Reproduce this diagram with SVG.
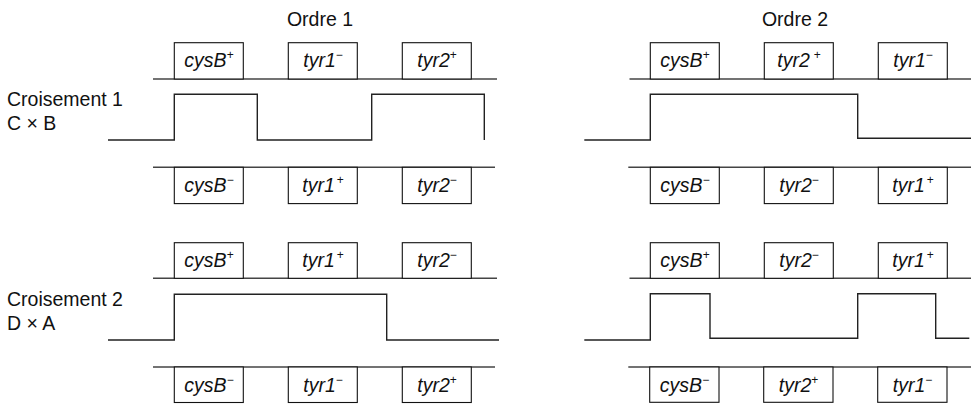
<svg xmlns="http://www.w3.org/2000/svg" width="971" height="404" viewBox="0 0 971 404">
<style>
.bg{fill:#fff}
.t{font-family:"Liberation Sans",Arial,sans-serif;font-size:19.5px;fill:#111}
.lab{font-family:"Liberation Sans",Arial,sans-serif;font-size:19.5px;font-style:italic;fill:#111;text-anchor:middle}
.sup{font-size:12px;font-style:normal}
.box{fill:#fff;stroke:#111;stroke-width:1.1}
.chr{stroke:#444;stroke-width:1.6;fill:none}
.wave{stroke:#222;stroke-width:1.4;fill:none}
</style>
<rect class="bg" x="0" y="0" width="971" height="404"/>
<g id="titles">
<text class="t" x="320" y="26" text-anchor="middle">Ordre 1</text>
<text class="t" x="795" y="26" text-anchor="middle">Ordre 2</text>
<text class="t" x="7" y="106">Croisement 1</text>
<text class="t" x="7" y="130">C × B</text>
<text class="t" x="7" y="306">Croisement 2</text>
<text class="t" x="7" y="330">D × A</text>
</g>
<g id="chromosomes">
<line class="chr" x1="153" y1="79" x2="497" y2="79"/>
<line class="chr" x1="153" y1="167.3" x2="495" y2="167.3"/>
<line class="chr" x1="629.5" y1="79" x2="971" y2="79"/>
<line class="chr" x1="628.3" y1="167.3" x2="971" y2="167.3"/>
<line class="chr" x1="153" y1="278.3" x2="497" y2="278.3"/>
<line class="chr" x1="153" y1="367" x2="495" y2="367"/>
<line class="chr" x1="629.5" y1="278.3" x2="971" y2="278.3"/>
<line class="chr" x1="628.3" y1="367" x2="971" y2="367"/>
</g>
<g id="connectors">
<path class="wave" d="M108,140 H174.3 V94.3 H257.3 V140 H371.7 V94.3 H484.3 V140"/>
<path class="wave" d="M584.3,140 H650.3 V94.3 H857.7 V138.3 H971"/>
<path class="wave" d="M108,340 H174.3 V294.3 H386.7 V340 H499"/>
<path class="wave" d="M584.3,340 H650.3 V293.7 H710 V338.3 H857.7 V293.7 H935.7 V338.3 H969.3"/>
</g>
<g id="c1-o1-top-cysB"><rect class="box" x="174.3" y="42.7" width="69" height="36.3"/><text class="lab" x="209" y="67.3">cysB<tspan class="sup" dy="-8">+</tspan></text></g>
<g id="c1-o1-top-tyr1"><rect class="box" x="288.3" y="42.7" width="69" height="36.3"/><text class="lab" x="323" y="67.3">tyr1<tspan class="sup" dy="-8">−</tspan></text></g>
<g id="c1-o1-top-tyr2"><rect class="box" x="402.3" y="42.7" width="69" height="36.3"/><text class="lab" x="437" y="67.3">tyr2<tspan class="sup" dy="-8">+</tspan></text></g>
<g id="c1-o1-bot-cysB"><rect class="box" x="174.3" y="167.3" width="69" height="36.3"/><text class="lab" x="209" y="192">cysB<tspan class="sup" dy="-8">−</tspan></text></g>
<g id="c1-o1-bot-tyr1"><rect class="box" x="288.3" y="167.3" width="69" height="36.3"/><text class="lab" x="323" y="192">tyr1<tspan class="sup" dx="2" dy="-8">+</tspan></text></g>
<g id="c1-o1-bot-tyr2"><rect class="box" x="402.3" y="167.3" width="69" height="36.3"/><text class="lab" x="437" y="192">tyr2<tspan class="sup" dy="-8">−</tspan></text></g>
<g id="c1-o2-top-cysB"><rect class="box" x="650.3" y="42.7" width="69" height="36.3"/><text class="lab" x="685" y="67.3">cysB<tspan class="sup" dy="-8">+</tspan></text></g>
<g id="c1-o2-top-tyr2"><rect class="box" x="764.3" y="42.7" width="69" height="36.3"/><text class="lab" x="799" y="67.3">tyr2<tspan class="sup" dx="4" dy="-8">+</tspan></text></g>
<g id="c1-o2-top-tyr1"><rect class="box" x="878.3" y="42.7" width="69" height="36.3"/><text class="lab" x="913" y="67.3">tyr1<tspan class="sup" dy="-8">−</tspan></text></g>
<g id="c1-o2-bot-cysB"><rect class="box" x="650.3" y="167.3" width="69" height="36.3"/><text class="lab" x="685" y="192">cysB<tspan class="sup" dy="-8">−</tspan></text></g>
<g id="c1-o2-bot-tyr2"><rect class="box" x="764.3" y="167.3" width="69" height="36.3"/><text class="lab" x="799" y="192">tyr2<tspan class="sup" dy="-8">−</tspan></text></g>
<g id="c1-o2-bot-tyr1"><rect class="box" x="878.3" y="167.3" width="69" height="36.3"/><text class="lab" x="913" y="192">tyr1<tspan class="sup" dx="2" dy="-8">+</tspan></text></g>
<g id="c2-o1-top-cysB"><rect class="box" x="174.3" y="242.7" width="69" height="35.6"/><text class="lab" x="209" y="267">cysB<tspan class="sup" dy="-8">+</tspan></text></g>
<g id="c2-o1-top-tyr1"><rect class="box" x="288.3" y="242.7" width="69" height="35.6"/><text class="lab" x="323" y="267">tyr1<tspan class="sup" dx="2" dy="-8">+</tspan></text></g>
<g id="c2-o1-top-tyr2"><rect class="box" x="402.3" y="242.7" width="69" height="35.6"/><text class="lab" x="437" y="267">tyr2<tspan class="sup" dy="-8">−</tspan></text></g>
<g id="c2-o1-bot-cysB"><rect class="box" x="174.3" y="367" width="69" height="35.5"/><text class="lab" x="209" y="391.5">cysB<tspan class="sup" dy="-8">−</tspan></text></g>
<g id="c2-o1-bot-tyr1"><rect class="box" x="288.3" y="367" width="69" height="35.5"/><text class="lab" x="323" y="391.5">tyr1<tspan class="sup" dy="-8">−</tspan></text></g>
<g id="c2-o1-bot-tyr2"><rect class="box" x="402.3" y="367" width="69" height="35.5"/><text class="lab" x="437" y="391.5">tyr2<tspan class="sup" dy="-8">+</tspan></text></g>
<g id="c2-o2-top-cysB"><rect class="box" x="650.3" y="242.7" width="69" height="35.6"/><text class="lab" x="685" y="267">cysB<tspan class="sup" dy="-8">+</tspan></text></g>
<g id="c2-o2-top-tyr2"><rect class="box" x="764.3" y="242.7" width="69" height="35.6"/><text class="lab" x="799" y="267">tyr2<tspan class="sup" dy="-8">−</tspan></text></g>
<g id="c2-o2-top-tyr1"><rect class="box" x="878.3" y="242.7" width="69" height="35.6"/><text class="lab" x="913" y="267">tyr1<tspan class="sup" dx="2" dy="-8">+</tspan></text></g>
<g id="c2-o2-bot-cysB"><rect class="box" x="649.7" y="367" width="69.3" height="35.3"/><text class="lab" x="684.5" y="391.5">cysB<tspan class="sup" dy="-8">−</tspan></text></g>
<g id="c2-o2-bot-tyr2"><rect class="box" x="763.7" y="367" width="69.3" height="35.3"/><text class="lab" x="798.5" y="391.5">tyr2<tspan class="sup" dy="-8">+</tspan></text></g>
<g id="c2-o2-bot-tyr1"><rect class="box" x="877.7" y="367" width="69.3" height="35.3"/><text class="lab" x="912.5" y="391.5">tyr1<tspan class="sup" dy="-8">−</tspan></text></g>
</svg>
